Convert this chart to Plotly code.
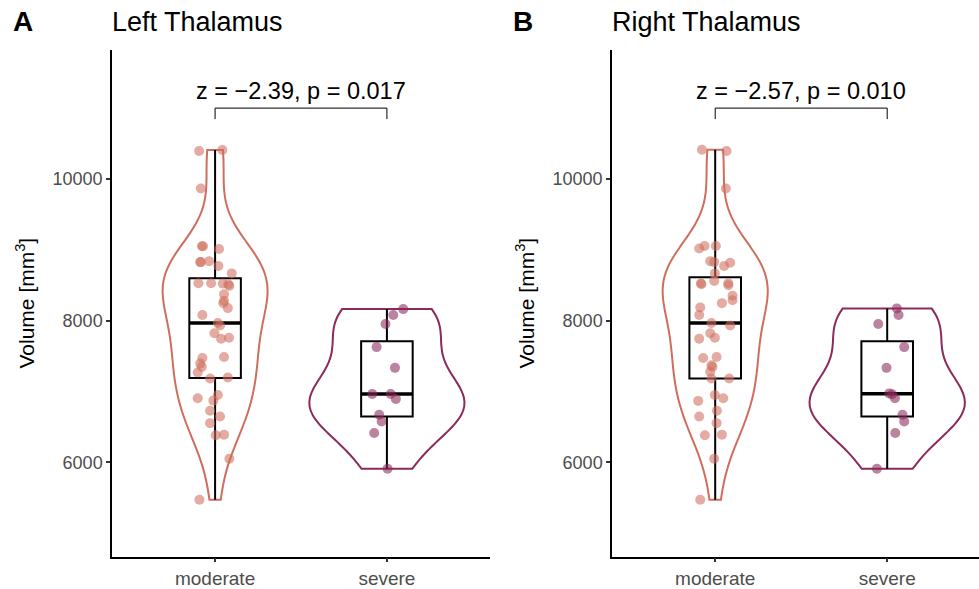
import numpy as np
import plotly.graph_objects as go

categories = ["moderate", "severe"]
panel_titles = ["Left Thalamus", "Right Thalamus"]
panel_tags = ["A", "B"]
stat_labels = ["z = −2.39, p = 0.017", "z = −2.57, p = 0.010"]
y_ticks = [6000, 8000, 10000]

# Left thalamus volumes (mm^3)
left_moderate = [10392, 10406, 9865, 9049, 9049, 9011, 8825, 8825, 8839, 8769, 8666,
                 8526, 8526, 8522, 8512, 8490, 8372, 8280, 8246, 8176, 8078, 7966,
                 7930, 7822, 7743, 7757, 7473, 7487, 7393, 7347, 7267, 7183, 7197,
                 6903, 6871, 6951, 6727, 6647, 6553, 6381, 6391, 6050, 5472]
left_moderate_jitter = [-0.093, 0.042, -0.083, -0.077, -0.070, 0.023, -0.087, -0.083,
                        -0.035, 0.019, 0.097, -0.097, -0.023, 0.045, 0.077, 0.083, 0.052,
                        0.052, 0.048, 0.074, -0.074, 0.016, 0.029, -0.004, 0.035, 0.081,
                        -0.074, 0.052, -0.087, -0.077, -0.101, -0.029, 0.074, -0.101,
                        -0.010, 0.016, -0.029, 0.029, -0.029, 0.004, 0.052, 0.083, -0.091]
left_severe = [8162, 8078, 7952, 7626, 7333, 6965, 6965, 6895, 6671, 6577, 6414, 5910]
left_severe_jitter = [0.095, 0.037, -0.008, -0.060, 0.047, -0.085, 0.022, 0.052,
                      -0.045, -0.031, -0.074, 0.004]

# Right thalamus volumes (mm^3)
right_moderate = [10411, 10392, 9865, 9016, 9053, 9053, 8839, 8825, 8769, 8816, 8666,
                  8526, 8512, 8560, 8526, 8498, 8350, 8288, 8246, 8186, 8078, 7966,
                  7930, 7822, 7757, 7743, 7473, 7487, 7370, 7347, 7277, 7183, 7183,
                  6867, 6951, 6903, 6727, 6647, 6553, 6381, 6391, 6050, 5472]
right_moderate_jitter = [-0.077, 0.066, 0.062, -0.093, -0.062, 0.004, -0.029, -0.006,
                         0.052, 0.087, -0.002, -0.083, -0.080, -0.006, 0.076, 0.077, 0.101,
                         0.101, 0.039, -0.087, -0.093, -0.022, 0.087, -0.029, -0.002,
                         -0.093, -0.070, 0.008, -0.022, -0.016, -0.029, -0.022, 0.081,
                         -0.099, -0.002, 0.047, 0.010, -0.093, 0.008, -0.060, 0.039,
                         -0.006, -0.087]
right_severe = [8172, 8078, 7952, 7626, 7333, 6973, 6960, 6903, 6671, 6577, 6414, 5910]
right_severe_jitter = [0.056, 0.066, -0.052, 0.099, -0.004, 0.012, 0.029, 0.045,
                       0.089, 0.099, 0.047, -0.060]

bracket_top = 10998
bracket_leg = 10843
label_y = 11236
y_range = [4668, 11824]

colors = {"moderate": "#CF6E5D", "severe": "#8C2A5C"}
violin_widths = {"moderate": 0.61, "severe": 0.9}

panels = [
    {"moderate": (left_moderate, left_moderate_jitter), "severe": (left_severe, left_severe_jitter)},
    {"moderate": (right_moderate, right_moderate_jitter), "severe": (right_severe, right_severe_jitter)},
]

W, H = 979, 589
x_domains = [[112 / W, 490 / W], [612 / W, 1.0]]
x_ranges = [[-0.6, 1.6], [-0.6, -0.6 + (979 - 612) / 172.0]]
y_domain = [(H - 561.5) / H, (H - 50) / H]


def nrd0(v):
    v = np.asarray(v, float)
    sd = np.std(v, ddof=1)
    q1, q3 = np.percentile(v, [25, 75])
    return 0.9 * min(sd, (q3 - q1) / 1.34) * len(v) ** (-0.2)


fig = go.Figure()
font = "Liberation Sans, Arial, Helvetica, sans-serif"

for p, panel in enumerate(panels):
    xa = "x" if p == 0 else "x2"
    ya = "y" if p == 0 else "y2"
    for ci, cat in enumerate(categories):
        vals, jit = panel[cat]
        vals = np.asarray(vals, float)
        fig.add_trace(go.Violin(
            x=[ci] * len(vals), y=vals, xaxis=xa, yaxis=ya,
            width=violin_widths[cat], spanmode="hard", bandwidth=nrd0(vals),
            points=False, line=dict(color=colors[cat], width=2),
            fillcolor="rgba(0,0,0,0)", scalemode="width", showlegend=False,
            hoverinfo="skip"))
        q1, med, q3 = np.percentile(vals, [25, 50, 75])
        iqr = q3 - q1
        lo = vals[vals >= q1 - 1.5 * iqr].min()
        hi = vals[vals <= q3 + 1.5 * iqr].max()
        fig.add_trace(go.Box(
            x=[ci], q1=[q1], median=[med], q3=[q3], lowerfence=[lo], upperfence=[hi],
            xaxis=xa, yaxis=ya, width=0.3, whiskerwidth=0, boxpoints=False,
            line=dict(color="black", width=2), fillcolor="rgba(0,0,0,0)",
            showlegend=False, hoverinfo="skip"))
        fig.add_trace(go.Scatter(
            x=[ci - 0.15, ci + 0.15], y=[med, med], xaxis=xa, yaxis=ya, mode="lines",
            line=dict(color="black", width=3.5), showlegend=False, hoverinfo="skip"))
        fig.add_trace(go.Scatter(
            x=ci + np.asarray(jit), y=vals, xaxis=xa, yaxis=ya, mode="markers",
            marker=dict(size=10, color=colors[cat], opacity=0.58, line=dict(width=0)),
            showlegend=False))
    # significance bracket
    fig.add_trace(go.Scatter(
        x=[0, 0, 1, 1], y=[bracket_leg, bracket_top, bracket_top, bracket_leg],
        xaxis=xa, yaxis=ya, mode="lines", line=dict(color="black", width=1),
        showlegend=False, hoverinfo="skip"))
    fig.add_annotation(x=0.5, y=label_y, xref=xa, yref=ya, text=stat_labels[p],
                       showarrow=False, font=dict(family=font, size=23.5, color="black"),
                       xanchor="center", yanchor="middle")
    x0px = 112 if p == 0 else 612
    fig.add_annotation(x=(x0px - 101) / W, y=(H - 22) / H, xref="paper", yref="paper",
                       text="<b>%s</b>" % panel_tags[p], showarrow=False,
                       font=dict(family=font, size=28, color="black"),
                       xanchor="left", yanchor="middle")
    fig.add_annotation(x=(x0px - 2) / W, y=(H - 22) / H, xref="paper", yref="paper",
                       text=panel_titles[p], showarrow=False,
                       font=dict(family=font, size=27, color="black"),
                       xanchor="left", yanchor="middle")

axis_common = dict(showline=True, linecolor="black", linewidth=1.5, ticks="outside",
                   ticklen=4, tickwidth=1.5, tickcolor="#333333", showgrid=False,
                   zeroline=False)
tick_font_y = dict(family=font, size=18, color="#4D4D4D")
tick_font_x = dict(family=font, size=19, color="#4D4D4D")

for p in range(2):
    sx = "" if p == 0 else "2"
    fig.update_layout(**{
        "xaxis" + sx: dict(axis_common, domain=x_domains[p], range=x_ranges[p],
                           tickvals=[0, 1], ticktext=categories, tickfont=tick_font_x,
                           anchor="y" + sx),
        "yaxis" + sx: dict(axis_common, domain=y_domain, range=y_range, tickvals=y_ticks,
                           ticktext=[str(t) for t in y_ticks], tickfont=tick_font_y,
                           anchor="x" + sx,
                           title=dict(text="Volume [mm<sup>3</sup>]", standoff=12,
                                      font=dict(family=font, size=21, color="black"))),
    })

fig.update_layout(width=W, height=H, margin=dict(l=0, r=0, t=0, b=0),
                  plot_bgcolor="white", paper_bgcolor="white",
                  violinmode="overlay", boxmode="overlay", showlegend=False)

fig.write_html("out.html", config={"displayModeBar": False},
               post_script="document.body.style.margin='0px';document.body.style.overflow='hidden';")
